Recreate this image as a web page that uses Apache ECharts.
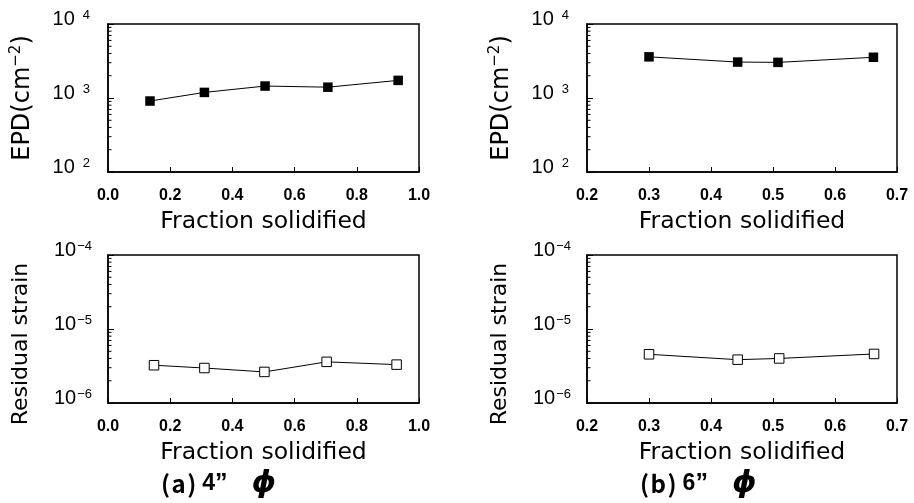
<!DOCTYPE html>
<html>
<head>
<meta charset="utf-8">
<script src="https://cdn.jsdelivr.net/npm/echarts@6/dist/echarts.min.js"></script>
<style>
html,body{margin:0;padding:0;background:#fff;}
#c{width:914px;height:503px;}
</style>
</head>
<body>
<div id="c"></div>
<script>
// ---- data ----
const x4EPD = [0.135, 0.31, 0.505, 0.707, 0.933];
const epd4 = [910, 1190, 1450, 1400, 1730];
const x6EPD = [0.30, 0.443, 0.508, 0.662];
const epd6 = [3600, 3060, 3030, 3550];
const x4Strain = [0.148, 0.31, 0.503, 0.703, 0.928];
const strain4 = [3.24e-6, 2.97e-6, 2.63e-6, 3.6e-6, 3.3e-6];
const x6Strain = [0.30, 0.443, 0.51, 0.663];
const strain6 = [4.55e-6, 3.85e-6, 4.0e-6, 4.6e-6];
const epdMinor = [200,300,400,500,600,700,800,900,2000,3000,4000,5000,6000,7000,8000,9000];
const strainMinor = [2e-6,3e-6,4e-6,5e-6,6e-6,7e-6,8e-6,9e-6,2e-5,3e-5,4e-5,5e-5,6e-5,7e-5,8e-5,9e-5];
const xRangeA = [0, 1.0, 0.2];
const xRangeB = [0.2, 0.7, 0.1];
const epdRange = [100, 10000];
const strainRange = [1e-6, 1e-4];
const xTitle = 'Fraction solidified';
const captionLetters = ['a', 'b'];
const captionSizes = ['4', '6'];

const chart = echarts.init(document.getElementById('c'));
const black = '#000';
const labelFont = "'Liberation Sans Narrow','Liberation Sans',Arial,sans-serif";
const sansFont = "'Liberation Sans',Arial,sans-serif";
const titleFont = "'DejaVu Sans','Liberation Sans',sans-serif";
const cjkFont = "'Noto Sans CJK JP','Liberation Sans',sans-serif";

const grids = [
  {left:108, top:24, width:311, height:148},
  {left:587, top:24, width:310, height:148},
  {left:108, top:255, width:311, height:148},
  {left:587, top:255, width:310, height:148}
].map(g => Object.assign(g, {show:true, borderColor:black, borderWidth:1.5, backgroundColor:'transparent'}));

function xAxis(i, r) {
  return {
    type:'value', gridIndex:i, min:r[0], max:r[1], interval:r[2],
    name:xTitle, nameLocation:'middle', nameGap:38,
    nameTextStyle:{fontFamily:titleFont, fontSize:23.5, color:black},
    axisLine:{show:true, lineStyle:{color:black, width:1.5}},
    axisTick:{show:true, inside:true, length:5, lineStyle:{color:black, width:1}},
    axisLabel:{fontFamily:labelFont, fontWeight:'bold', fontSize:16, color:black, margin:16,
      formatter:v => v.toFixed(1)},
    splitLine:{show:false}
  };
}
function yAxis(i, r, isEPD) {
  return {
    type:'log', logBase:10, gridIndex:i, min:r[0], max:r[1],
    name: isEPD ? '{a|EPD(cm}{s|−2}{a|)}' : '{a|Residual strain}',
    nameLocation:'middle', nameGap: isEPD ? 72 : 74,
    nameTextStyle:{
      padding: isEPD ? [0,0,0,0] : [0,30,0,0],
      rich:{
        a:{fontFamily:titleFont, fontSize: isEPD ? 24 : 22, color:black, lineHeight:26},
        s:{fontFamily:titleFont, fontSize:15, color:black, lineHeight:26, padding:[0,0,13,0]}
      }
    },
    axisLine:{show:true, lineStyle:{color:black, width:1.5}},
    axisTick:{show:true, inside:true, length:6, lineStyle:{color:black, width:1}},
    minorTick:{show:false},
    splitLine:{show:false},
    axisLabel:{
      margin: isEPD ? 18 : 16,
      verticalAlign:'bottom',
      formatter:function(v){
        const e = Math.round(Math.log10(v));
        if (isEPD) return '{b|10}{s|' + e + '}';
        return '{b|10}{m|−' + Math.abs(e) + '}';
      },
      rich:{
        b:{fontFamily:sansFont, fontSize:20, color:black, lineHeight:10},
        s:{fontFamily:sansFont, fontSize:13, color:black, lineHeight:10, padding:[0,0,8,8]},
        m:{fontFamily:sansFont, fontSize:13, color:black, lineHeight:10, padding:[0,0,8,1]}
      }
    }
  };
}

function minorTickSeries(i, xmin, vals) {
  return {
    type:'custom', xAxisIndex:i, yAxisIndex:i, silent:true, clip:false,
    coordinateSystem:'cartesian2d',
    encode:{x:0, y:1},
    data: vals.map(v => [xmin, v]),
    renderItem:function(params, api){
      const p = api.coord([api.value(0), api.value(1)]);
      return {type:'line', shape:{x1:p[0], y1:p[1], x2:p[0]+3.5, y2:p[1]},
        style:{stroke:black, lineWidth:1}};
    },
    animation:false,
    z:5
  };
}
function lineSeries(i, xs, ys, filled) {
  return {
    type:'line', xAxisIndex:i, yAxisIndex:i,
    data: xs.map((x, k) => [x, ys[k]]),
    symbol:'rect', symbolSize:9.5,
    lineStyle:{color:black, width:1},
    itemStyle:{color: filled ? black : '#fff', borderColor:black, borderWidth: filled ? 0 : 1},
    animation:false, z:10
  };
}

function caption(k, left) {
  return {
    text:'{p|(\u200A' + captionLetters[k] + '\u200A)}{d|' + captionSizes[k] + '}{q|\u201D}{f|ϕ}',
    left:left, top:462,
    textStyle:{rich:{
      p:{fontFamily:cjkFont, fontSize:24, color:black, lineHeight:34},
      d:{fontFamily:sansFont, fontSize:23, color:black, fontWeight:'bold', lineHeight:34, padding:[0,0,0,6]},
      q:{fontFamily:sansFont, fontSize:25, color:black, fontWeight:'bold', lineHeight:34},
      f:{fontFamily:"'DejaVu Sans',sans-serif", fontSize:31, color:black, fontStyle:'italic', fontWeight:'bold', lineHeight:34, padding:[0,0,0,24]}
    }}
  };
}

const option = {
  animation:false,
  backgroundColor:'#fff',
  grid: grids,
  xAxis:[xAxis(0, xRangeA), xAxis(1, xRangeB), xAxis(2, xRangeA), xAxis(3, xRangeB)],
  yAxis:[yAxis(0, epdRange, true), yAxis(1, epdRange, true), yAxis(2, strainRange, false), yAxis(3, strainRange, false)],
  title:[caption(0, 156), caption(1, 635)],
  series:[
    minorTickSeries(0, xRangeA[0], epdMinor),
    minorTickSeries(1, xRangeB[0], epdMinor),
    minorTickSeries(2, xRangeA[0], strainMinor),
    minorTickSeries(3, xRangeB[0], strainMinor),
    lineSeries(0, x4EPD, epd4, true),
    lineSeries(1, x6EPD, epd6, true),
    lineSeries(2, x4Strain, strain4, false),
    lineSeries(3, x6Strain, strain6, false)
  ]
};
chart.setOption(option);
</script>
</body>
</html>
